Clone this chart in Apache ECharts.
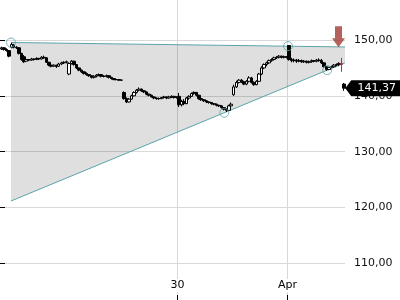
<!DOCTYPE html>
<html><head><meta charset="utf-8">
<script src="https://cdn.jsdelivr.net/npm/echarts@6/dist/echarts.min.js"></script>
<style>html,body{margin:0;padding:0;background:#fff}#c{width:400px;height:300px}</style>
</head><body><div id="c"></div>
<script>
// Trading days and number of candles per day
const dayNames = ['Mar 24','Mar 25','Mar 26','Mar 27','Mar 30','Mar 31','Apr 1'];
const daySlots = [5, 22, 22, 22, 22, 22, 23];
// Tick labels shown on the time axis (day -> label)
const tickDays = ['Mar 30', 'Apr 1'];
const tickLabels = ['30', 'Apr'];
// Price ticks
const yTicks = [110, 120, 130, 140, 150];
// Candles [open, close, low, high]
const candles = [
[148.4,148.6,148.2,148.8],[148.6,148.3,148.1,148.7],[148.3,148.1,147.9,148.5],[148.1,147.1,146.9,148.2],[148.7,149.2,148.5,149.5],
[149.1,148.7,148.5,149.3],[148.7,148.6,148.4,148.9],[148.6,147.6,147.4,148.7],[147.6,146.5,146.3,147.7],[147.0,146.1,145.9,147.3],
[146.2,146.5,146.1,146.7],[146.5,146.4,146.2,146.6],[146.4,146.6,146.3,146.8],[146.6,146.5,146.3,146.7],[146.5,146.7,146.4,146.9],
[146.7,146.6,146.4,146.8],[146.6,146.9,146.5,147.1],[146.9,146.8,146.6,147.2],[146.8,146.0,145.9,146.9],[146.0,145.5,145.3,146.1],
[145.5,145.3,145.1,145.6],[145.3,145.5,145.2,145.6],[145.4,145.3,145.0,145.6],[145.3,145.7,145.2,145.9],[145.7,145.9,145.5,146.1],
[145.9,146.0,145.7,146.2],[146.0,146.1,145.8,146.3],
[143.9,145.8,143.7,146.0],[145.8,146.2,145.6,146.4],[146.2,145.6,145.4,146.3],[145.6,145.0,144.8,145.7],[145.0,144.6,144.4,145.1],
[144.6,144.3,144.1,144.7],[144.3,144.0,143.8,144.4],[144.0,143.8,143.6,144.2],[143.8,143.6,143.4,143.9],[143.6,143.3,143.1,143.7],
[143.3,143.5,143.1,143.7],[143.5,143.7,143.3,143.9],[143.7,143.8,143.5,144.0],[143.8,143.5,143.3,143.9],[143.5,143.5,143.3,143.7],
[143.5,143.6,143.3,143.8],[143.6,143.3,143.1,143.7],[143.3,143.1,142.9,143.4],[143.1,142.9,142.8,143.2],[142.9,142.9,142.8,143.0],
[142.9,142.8,142.7,143.0],[142.8,142.8,142.7,142.9],
[140.6,139.5,139.3,140.8],[139.5,138.9,138.7,139.7],[138.9,139.4,138.8,139.6],[139.4,140.0,139.3,140.2],[140.0,140.6,139.9,140.8],
[140.6,141.0,140.4,141.2],[141.0,141.2,140.8,141.5],[141.2,140.9,140.7,141.3],[140.9,140.7,140.5,141.0],[140.7,140.3,140.1,140.8],
[140.3,140.1,139.9,140.4],[140.1,139.8,139.7,140.2],[139.8,139.6,139.4,139.9],[139.6,139.5,139.3,139.7],[139.5,139.5,139.3,139.7],
[139.5,139.7,139.4,139.8],[139.7,139.8,139.5,140.0],[139.8,139.6,139.4,139.9],[139.6,139.8,139.5,140.0],[139.8,139.9,139.6,140.1],
[139.9,139.7,139.5,140.0],[139.7,139.8,139.5,139.9],
[139.9,138.4,138.0,140.5],[138.4,139.0,138.1,139.3],[139.0,138.6,138.3,139.4],[138.6,139.6,138.5,139.8],[139.6,139.9,139.3,140.1],
[139.9,140.4,139.8,140.6],[140.4,140.6,140.2,140.8],[140.6,140.1,139.9,140.7],[140.1,139.5,139.3,140.2],[139.5,139.3,139.1,139.6],
[139.3,139.1,138.9,139.4],[139.1,138.9,138.7,139.2],[138.9,138.8,138.6,139.0],[138.8,138.6,138.4,138.9],[138.6,138.5,138.3,138.7],
[138.5,138.3,138.1,138.6],[138.3,138.2,138.0,138.4],[138.2,137.9,137.7,138.3],[137.9,137.6,137.4,138.0],[137.6,137.4,137.1,137.8],
[137.4,138.2,137.3,138.4],[138.2,138.5,138.0,138.8],
[140.2,141.6,140.0,142.0],[141.6,142.4,141.4,142.7],[142.4,142.8,142.2,143.0],[142.8,142.5,142.3,143.0],[142.5,142.1,141.9,142.7],
[142.1,142.6,141.9,142.8],[142.6,143.2,142.4,143.5],[143.2,142.4,142.2,143.4],[142.4,142.0,141.8,142.6],[142.0,142.6,141.9,142.8],
[142.6,143.9,142.5,144.1],[143.9,145.0,143.7,145.3],[145.0,145.6,144.8,145.8],[145.6,145.9,145.3,146.1],[145.9,146.3,145.7,146.5],
[146.3,146.5,146.1,146.7],[146.5,146.8,146.3,147.0],[146.8,146.9,146.6,147.1],[146.9,147.1,146.7,147.3],[147.1,146.9,146.7,147.2],
[146.9,147.0,146.7,147.2],[147.0,146.9,146.7,147.1],
[149.0,146.5,146.3,149.1],[146.5,146.3,146.0,146.8],[146.3,146.4,146.0,146.7],[146.4,146.2,145.9,146.6],[146.2,146.3,146.0,146.6],
[146.3,146.1,145.9,146.5],[146.1,146.2,145.9,146.4],[146.2,146.0,145.8,146.3],[146.0,146.1,145.8,146.3],[146.1,146.3,145.9,146.5],
[146.3,146.2,146.0,146.4],[146.2,146.4,146.0,146.6],[146.4,146.3,146.1,146.7],[146.3,145.9,145.7,146.6],[145.9,145.2,145.0,146.0],
[145.2,144.7,144.5,145.3],[144.7,145.1,144.6,145.2],[145.1,145.2,144.9,145.4],[145.2,145.5,145.0,145.7],[145.5,145.6,145.3,145.8],
[145.6,145.8,145.3,146.0],[145.8,145.6,144.3,146.8],[142.1,141.37,140.9,142.3]
];
// Index of the signal candle (drawn red) and its arrow position [slot, price]
const signalIndex = 136;
const signalArrow = [[135.4, 150.6]];
// Triangle pattern: upper and lower trend lines [slot, price]
const trendTop = [[4.4, 149.55], [138, 148.75]];
const trendBottom = [[4.4, 121.16], [138, 145.92]];
// Touch points on the trend lines [slot, price]
const touchPoints = [[4.4, 149.55], [115.2, 148.9], [89.7, 136.97], [130.9, 144.6]];

const categories = [];
const dayStart = {};
dayNames.forEach((d, di) => {
  dayStart[d] = categories.length;
  for (let k = 0; k < daySlots[di]; k++) categories.push(d + ' #' + k);
});
const tickSlots = tickDays.map(d => dayStart[d]);

const RED = '#a23a35', TEAL = '#5ba3a8';
const candleData = candles.map((c, i) => i === signalIndex
  ? { value: c, itemStyle: { color: RED, color0: RED, borderColor: RED, borderColor0: RED } }
  : c);
const last = candles[candles.length - 1][1];
const fmt = v => v.toFixed(2).replace('.', ',');
const FONT = 'DejaVu Sans';

const chart = echarts.init(document.getElementById('c'), null, { renderer: 'canvas' });
chart.setOption({
  animation: false,
  grid: { left: 0, right: 55, top: 0, bottom: 0, containLabel: false },
  xAxis: [{
    type: 'category', data: categories, boundaryGap: true, show: false
  }, {
    type: 'value', min: 0, max: categories.length, position: 'bottom',
    axisLine: { show: false },
    axisTick: { show: true, inside: true, length: 5, customValues: tickSlots, lineStyle: { color: '#000' } },
    axisLabel: { inside: true, margin: 8, customValues: tickSlots, color: '#000', fontFamily: FONT, fontSize: 11,
      backgroundColor: '#fff', padding: [1, 1],
      formatter: (v) => { const k = tickSlots.indexOf(v); return k >= 0 ? tickLabels[k] : ''; } },
    splitLine: { show: true, lineStyle: { color: '#d9d9d9', width: 1 } }
  }],
  yAxis: {
    type: 'value', position: 'right', min: 103.43, max: 157.16, scale: true,
    axisLine: { show: false },
    axisTick: { show: true, length: 5, customValues: yTicks, lineStyle: { color: '#000' } },
    axisLabel: { customValues: yTicks, margin: 9, color: '#111', fontFamily: FONT, fontSize: 11, formatter: v => fmt(v) },
    splitLine: { show: true, lineStyle: { color: '#d9d9d9', width: 1 } }
  },
  series: [
    {
      type: 'custom', xAxisIndex: 1, z: 1, silent: true, clip: true,
      data: [0],
      renderItem: (params, api) => {
        const pts = trendTop.concat(trendBottom.slice().reverse()).map(p => api.coord(p));
        return { type: 'polygon', shape: { points: pts }, style: { fill: 'rgba(0,0,0,0.125)', stroke: null } };
      }
    },
    { type: 'line', xAxisIndex: 1, data: trendTop, symbol: 'none', z: 3, lineStyle: { color: TEAL, width: 1 } },
    { type: 'line', xAxisIndex: 1, data: trendBottom, symbol: 'none', z: 3, lineStyle: { color: TEAL, width: 1 } },
    {
      type: 'candlestick', xAxisIndex: 0, data: candleData, barWidth: 3, z: 4,
      itemStyle: { color: '#fff', color0: '#000', borderColor: '#000', borderColor0: '#000', borderWidth: 1 },
      markPoint: {
        silent: true, animation: false,
        data: [{
          coord: [candles.length - 1, last], value: last,
          symbol: 'path://M0,8 L6,0 L57,0 L57,16 L6,16 Z', symbolSize: [57, 16], symbolKeepAspect: false,
          symbolOffset: [30, 0],
          itemStyle: { color: '#000' },
          label: { show: true, position: 'inside', offset: [3, 0], color: '#fff', fontFamily: FONT, fontSize: 11, formatter: () => fmt(last) }
        }]
      }
    },
    {
      type: 'scatter', xAxisIndex: 1, data: touchPoints, symbol: 'circle', symbolSize: 9, z: 5,
      itemStyle: { color: 'rgba(0,0,0,0)', borderColor: TEAL, borderWidth: 1 }
    },
    {
      type: 'scatter', xAxisIndex: 1, data: signalArrow, z: 6,
      symbol: 'path://M3,0 L10,0 L10,12 L13,12 L6.5,21 L0,12 L3,12 Z', symbolSize: [13, 21], symbolKeepAspect: false,
      itemStyle: { color: RED }
    }
  ]
});
</script></body></html>
